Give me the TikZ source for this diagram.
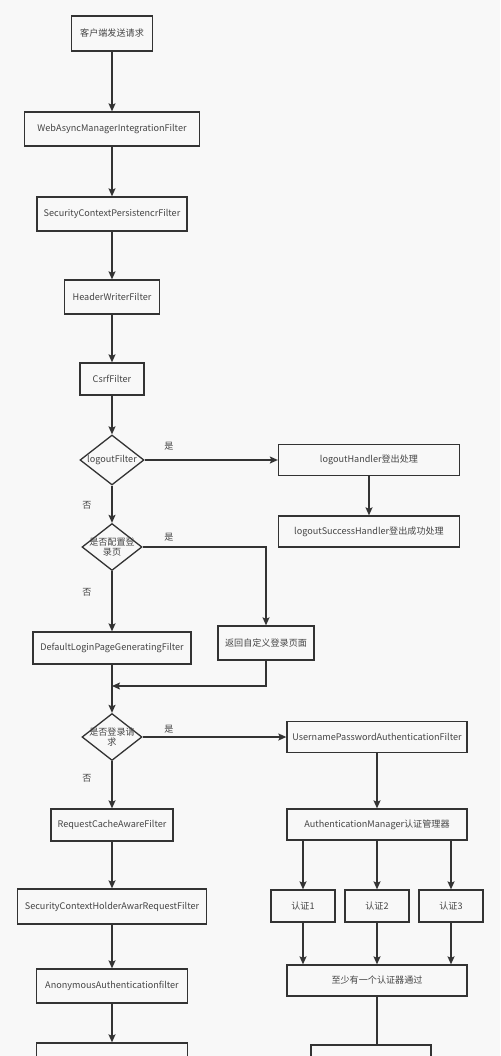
\documentclass[tikz,border=0pt]{standalone}
\usepackage{fontspec}
\setmainfont{Noto Sans CJK SC}
\usetikzlibrary{arrows.meta,shapes.geometric}
\definecolor{bgc}{HTML}{F8F8F8}
\definecolor{linec}{HTML}{333333}
\definecolor{textc}{HTML}{444444}
\begin{document}
\begin{tikzpicture}[x=1pt,y=-1pt,
  font=\fontsize{9.1}{10.8}\selectfont,
  box/.style={draw=linec,line width=1.3pt,text=textc,inner sep=0pt,align=center},
  dia/.style={draw=linec,line width=1.3pt,diamond,inner sep=0pt},
  dtext/.style={text=textc,align=center,inner sep=0pt},
  lbl/.style={text=textc,inner sep=0pt},
  arr/.style={draw=linec,line width=1.3pt,-{Stealth[length=8pt,width=7pt,inset=1.5pt]}},
  ln/.style={draw=linec,line width=1.3pt}]
\fill[bgc] (0,0) rectangle (500,1056);
\clip (0,0) rectangle (500,1056);
\useasboundingbox (0,0) rectangle (500,1056);
% left column
\node[box,minimum width=81pt,minimum height=35pt] (n1) at (112,33.5) {客户端发送请求};
\node[box,minimum width=175pt,minimum height=34pt] (n2) at (112,129) {WebAsyncManagerIntegrationFilter};
\node[box,minimum width=150pt,minimum height=34pt] (n3) at (112,214) {SecurityContextPersistencrFilter};
\node[box,minimum width=95pt,minimum height=34pt] (n4) at (112,297) {HeaderWriterFilter};
\node[box,minimum width=64pt,minimum height=32pt] (n5) at (112,379) {CsrfFilter};
\node[dia,minimum width=64pt,minimum height=50pt] (d1) at (112,460) {};
\node[dtext] (d1t) at (112,460) {logoutFilter};
\node[box,minimum width=181pt,minimum height=31pt] (lh) at (369,460) {logoutHandler登出处理};
\node[box,minimum width=181pt,minimum height=31pt] (ls) at (369,531.5) {logoutSuccessHandler登出成功处理};
\node[dia,minimum width=60pt,minimum height=47pt] (d2) at (112,547) {};
\node[dtext] (d2t) at (112,547) {是否配置登\\录页};
\node[box,minimum width=158pt,minimum height=32pt] (dl) at (112,648) {DefaultLoginPageGeneratingFilter};
\node[box,minimum width=96pt,minimum height=34pt] (rt) at (266,643) {返回自定义登录页面};
\coordinate (m) at (112,686);
\node[dia,minimum width=60pt,minimum height=47pt] (d3) at (112,737) {};
\node[dtext] (d3t) at (112,737) {是否登录请\\求};
\node[box,minimum width=180pt,minimum height=31pt] (up) at (377,737) {UsernamePasswordAuthenticationFilter};
\node[box,minimum width=180pt,minimum height=31pt] (am) at (377,824.5) {AuthenticationManager认证管理器};
\node[box,minimum width=64pt,minimum height=32pt] (a1) at (303,906) {认证1};
\node[box,minimum width=64pt,minimum height=32pt] (a2) at (377,906) {认证2};
\node[box,minimum width=64pt,minimum height=32pt] (a3) at (451,906) {认证3};
\node[box,minimum width=180pt,minimum height=31pt] (zs) at (377,980.5) {至少有一个认证器通过};
\node[box,minimum width=120pt,minimum height=30pt] (br) at (371,1060) {};
\node[box,minimum width=122pt,minimum height=32pt] (rc) at (112,825) {RequestCacheAwareFilter};
\node[box,minimum width=189pt,minimum height=35pt] (sh) at (112,906.5) {SecurityContextHolderAwarRequestFilter};
\node[box,minimum width=151pt,minimum height=34pt] (an) at (112,986) {AnonymousAuthenticationfilter};
\node[box,minimum width=151pt,minimum height=30pt] (bl) at (112,1058) {};
% labels
\node[lbl] (y1) at (169,446) {是};
\node[lbl] (f1) at (87,505) {否};
\node[lbl] (y2) at (169,537) {是};
\node[lbl] (f2) at (87,592) {否};
\node[lbl] (y3) at (169,729) {是};
\node[lbl] (f3) at (87,778) {否};
% connectors
\draw[arr] (n1) -- (n2);
\draw[arr] (n2) -- (n3);
\draw[arr] (n3) -- (n4);
\draw[arr] (n4) -- (n5);
\draw[arr] (n5) -- (d1);
\draw[arr] (d1.east) -- (lh.west);
\draw[arr] (lh) -- (ls);
\draw[arr] (d1) -- (d2);
\draw[arr] (d2.east) -| (rt.north);
\draw[arr] (d2) -- (dl);
\draw[arr] (dl) -- (d3);
\draw[arr] (rt.south) |- (m);
\draw[arr] (d3.east) -- (up.west);
\draw[arr] (d3) -- (rc);
\draw[arr] (rc) -- (sh);
\draw[arr] (sh) -- (an);
\draw[arr] (an) -- (bl);
\draw[arr] (up) -- (am);
\draw[arr] (am.south -| a1) -- (a1);
\draw[arr] (am) -- (a2);
\draw[arr] (am.south -| a3) -- (a3);
\draw[arr] (a1) -- (zs.north -| a1);
\draw[arr] (a2) -- (zs);
\draw[arr] (a3) -- (zs.north -| a3);
\draw[ln] (zs.south) -- (zs.south |- br.north);
\end{tikzpicture}
\end{document}
